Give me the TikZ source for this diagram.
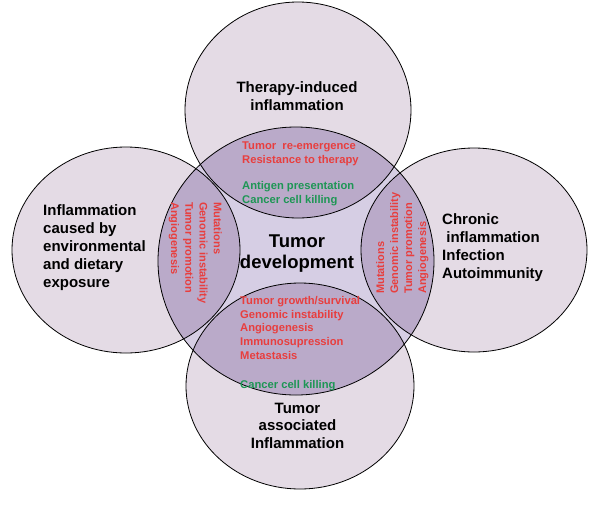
\documentclass[tikz,border=0pt]{standalone}
\usepackage{fontspec}
\setmainfont{Liberation Sans}
\definecolor{outerfill}{RGB}{228,219,229}
\definecolor{centerfill}{RGB}{214,206,228}
\definecolor{overlapfill}{RGB}{186,170,201}
\definecolor{redtxt}{RGB}{232,62,62}
\definecolor{greentxt}{RGB}{30,150,85}
\begin{document}
\begin{tikzpicture}[x=1pt,y=-1pt,
  ring/.style={draw=black, line width=0.8pt},
  biglbl/.style={font=\fontsize{15}{18}\selectfont\bfseries, inner sep=0pt},
  redlbl/.style={font=\fontsize{11.2}{13.3}\selectfont\bfseries, text=redtxt, inner sep=0pt, align=left},
  greenlbl/.style={font=\fontsize{11.2}{13.3}\selectfont\bfseries, text=greentxt, inner sep=0pt, align=left}]
\useasboundingbox[fill=white] (0,0) rectangle (600,504);
% outer circles
\def\topE{(298,110) ellipse [x radius=113pt, y radius=108pt]}
\def\leftE{(126,250) ellipse [x radius=114pt, y radius=103pt]}
\def\rightE{(474,250) ellipse [x radius=113pt, y radius=102pt]}
\def\botE{(300,386) ellipse [x radius=114pt, y radius=103pt]}
\def\cenE{(296,261) ellipse [x radius=138pt, y radius=134pt]}
\fill[outerfill] \topE;
\fill[outerfill] \leftE;
\fill[outerfill] \rightE;
\fill[outerfill] \botE;
\fill[centerfill] \cenE;
\begin{scope}
  \clip \cenE;
  \fill[overlapfill] \topE;
  \fill[overlapfill] \leftE;
  \fill[overlapfill] \rightE;
  \fill[overlapfill] \botE;
\end{scope}
\draw[ring] \topE;
\draw[ring] \leftE;
\draw[ring] \rightE;
\draw[ring] \botE;
\draw[ring] \cenE;
% labels
\node[biglbl, align=center, anchor=base] (ttop) at (297,110) {Therapy-induced\\inflammation};
\node[biglbl, align=left, anchor=base west] (tleft) at (43,287) {Inflammation\\caused by\\environmental\\and dietary\\exposure};
\node[biglbl, align=left, anchor=base west] (tright) at (442,278) {Chronic\\\ inflammation\\Infection\\Autoimmunity};
\node[biglbl, align=center, anchor=base, font=\fontsize{15}{17.5}\selectfont\bfseries] (tbot) at (297.5,448) {Tumor\\associated\\Inflammation};
\node[inner sep=0pt, align=center, anchor=base, font=\fontsize{18.5}{21}\selectfont\bfseries] (tcen) at (297,268) {Tumor\\development};
% overlap texts
\node[redlbl, anchor=base west] (rtop) at (242,163) {Tumor\ \ re-emergence\\Resistance to therapy};
\node[greenlbl, anchor=base west] (gtop) at (242,203) {Antigen presentation\\Cancer cell killing};
\node[redlbl, anchor=base west, font=\fontsize{11.2}{13.6}\selectfont\bfseries] (rbot) at (240,359) {Tumor growth/survival\\Genomic instability\\Angiogenesis\\Immunosupression\\Metastasis};
\node[greenlbl, anchor=base west] (gbot) at (240,388) {Cancer cell killing};
\node[redlbl, anchor=base west, rotate=-90, font=\fontsize{11}{14.3}\selectfont\bfseries] (rleft) at (171,202) {Mutations\\Genomic instability\\Tumor promotion\\Angiogenesis};
\node[redlbl, anchor=base west, rotate=90, font=\fontsize{11}{14}\selectfont\bfseries] (rright) at (426,294) {Mutations\\Genomic instability\\Tumor promotion\\Angiogenesis};
\end{tikzpicture}
\end{document}
